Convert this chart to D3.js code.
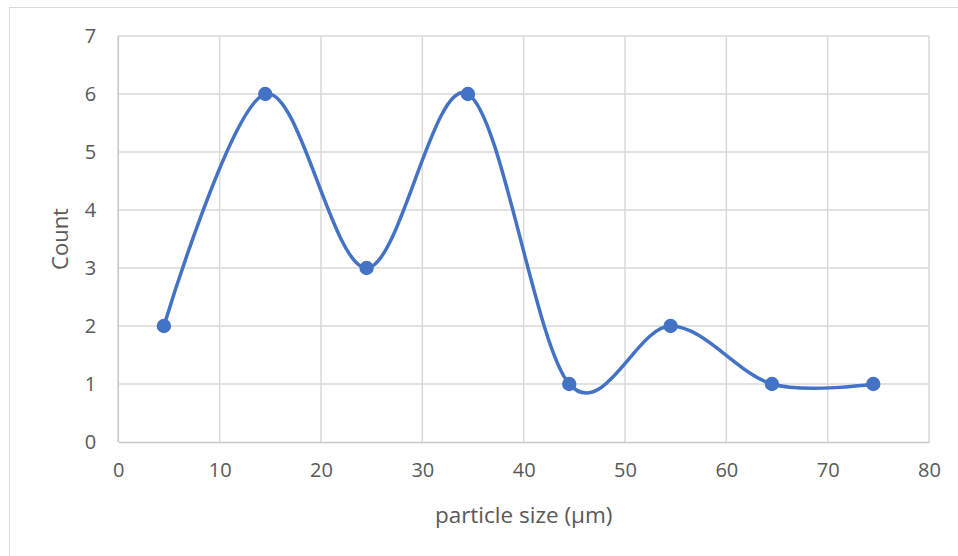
<!DOCTYPE html>
<html>
<head>
<meta charset="utf-8">
<script src="https://cdn.jsdelivr.net/npm/d3@7"></script>
<style>
  html, body { margin: 0; padding: 0; background: #fff; }
  svg { display: block; }
</style>
</head>
<body>
<svg id="chart" width="958" height="556"></svg>
<script>
// Particle size distribution: bin centres and counts
const sizes = [4.5, 14.5, 24.5, 34.5, 44.5, 54.5, 64.5, 74.5];
const counts = [2, 6, 3, 6, 1, 2, 1, 1];
const xTicks = [0, 10, 20, 30, 40, 50, 60, 70, 80];
const yTicks = [0, 1, 2, 3, 4, 5, 6, 7];

const svg = d3.select("#chart");
const font = "'Open Sans', 'Noto Sans', sans-serif";
const textColor = "#595959";
const gridColor = "#d9d9d9";
const lineColor = "#4472C4";

const x = d3.scaleLinear().domain([0, 80]).range([118.3, 929]);
const y = d3.scaleLinear().domain([0, 7]).range([442, 36]);

// Chart frame
svg.append("rect")
  .attr("x", 9.5).attr("y", 7.5)
  .attr("width", 1000).attr("height", 1000)
  .attr("fill", "none").attr("stroke", gridColor).attr("stroke-width", 1);

// Gridlines
const grid = svg.append("g");
grid.selectAll("line.h").data(yTicks.filter(d => d > 0)).join("line")
  .attr("x1", x(0)).attr("x2", x(80))
  .attr("y1", d => y(d)).attr("y2", d => y(d))
  .attr("stroke", gridColor).attr("stroke-width", 1.5);
grid.selectAll("line.v").data(xTicks).join("line")
  .attr("y1", y(0)).attr("y2", y(7))
  .attr("x1", d => x(d)).attr("x2", d => x(d))
  .attr("stroke", gridColor).attr("stroke-width", 1.5);

// Axes
const xAxis = svg.append("g")
  .attr("transform", `translate(0,${y(0)})`)
  .call(d3.axisBottom(x).tickValues(xTicks).tickFormat(d3.format("d")).tickSize(0).tickPadding(21));
const yAxis = svg.append("g")
  .attr("transform", `translate(${x(0)},0)`)
  .call(d3.axisLeft(y).tickValues(yTicks).tickFormat(d3.format("d")).tickSize(0).tickPadding(22));
[xAxis, yAxis].forEach(g => {
  g.select(".domain").attr("stroke", "#c8c8c8").attr("stroke-width", 1.5);
  g.selectAll("text").attr("fill", textColor)
    .style("font-family", font).style("font-size", "20px");
});
yAxis.select(".domain").remove();
yAxis.append("line").attr("y1", y(0)).attr("y2", y(7))
  .attr("stroke", "#c8c8c8").attr("stroke-width", 1.5);

// Axis titles
svg.append("text")
  .attr("x", (x(0) + x(80)) / 2).attr("y", 523)
  .attr("text-anchor", "middle")
  .attr("fill", textColor)
  .style("font-family", font).style("font-size", "22.5px")
  .text("particle size (µm)");
svg.append("text")
  .attr("transform", `translate(68,${(y(0) + y(7)) / 2}) rotate(-90)`)
  .attr("text-anchor", "middle")
  .attr("fill", textColor)
  .style("font-family", font).style("font-size", "22px")
  .text("Count");

// Smoothed series line
const data = sizes.map((s, i) => ({ s, c: counts[i] }));
const line = d3.line()
  .x(d => x(d.s)).y(d => y(d.c))
  .curve(d3.curveCardinal.tension(0));
svg.append("path")
  .datum(data)
  .attr("d", line)
  .attr("fill", "none")
  .attr("stroke", lineColor)
  .attr("stroke-width", 3.5)
  .attr("stroke-linejoin", "round");

// Markers
svg.selectAll("circle.pt").data(data).join("circle")
  .attr("class", "pt")
  .attr("cx", d => x(d.s)).attr("cy", d => y(d.c))
  .attr("r", 7.2)
  .attr("fill", lineColor);
</script>
</body>
</html>
